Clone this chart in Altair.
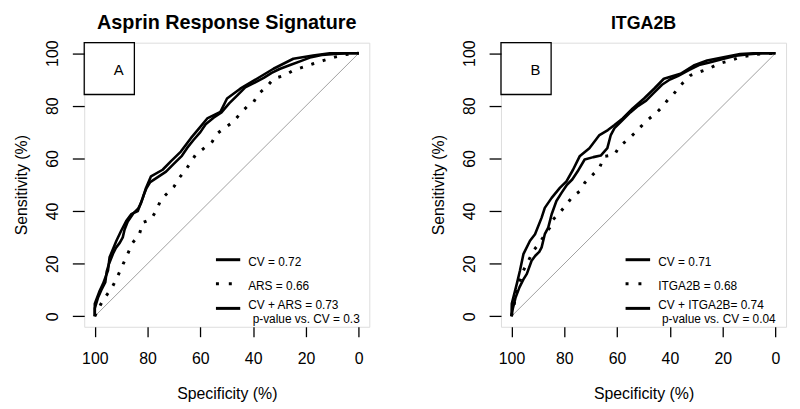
import altair as alt
import pandas as pd

FONT = "Liberation Sans"

# ---------------- Panel A : Asprin Response Signature ----------------
A_CVARS_SPEC = [100, 100, 98.1, 96.9, 95.0, 94.4, 91.8, 90.0, 88.1, 86.2, 83.7, 81.8, 80.6, 78.7, 74.3, 71.2,
                67.4, 63.6, 60.5, 57.4, 52.4, 49.9, 44.9, 38.6, 32.3, 24.8, 17.3, 11.0, 0]
A_CVARS_SENS = [0, 4.8, 9.8, 12.3, 17.4, 22.4, 28.7, 32.5, 36.2, 38.8, 40, 45, 48.8, 53.2, 55.7, 58.9,
                62.6, 67.7, 71.4, 75.2, 77.7, 82.8, 86.5, 90.3, 94.1, 97.9, 99.1, 100, 100]

A_CV_SPEC = [100, 100, 98.8, 97.5, 96, 95.5, 94.6, 93, 92, 90.5, 89.4, 88.7, 87.5, 85.5, 83.5, 82.5, 81.5,
             80.5, 79, 76, 73, 70, 67, 65, 62.6, 60, 58, 55, 52, 49, 46, 43, 40, 36, 33, 30, 26, 22, 18,
             14, 9, 4, 0]
A_CV_SENS = [0, 3, 7, 10, 13, 17, 20, 24, 26, 28, 30, 33, 36, 39, 41, 43, 46,
             48.5, 51, 53, 55, 58, 61, 64, 67, 70, 73, 75.5, 77.5, 81, 84, 87, 88.5, 90.6, 92.5, 94, 95.5, 97, 98.5,
             99.3, 99.7, 100, 100]

A_ARS_SPEC = [100, 99, 97, 93.7, 91.8, 88.7, 85.6, 83.1, 81.8, 78.7, 76.8, 74.9, 72.4, 69.9, 68, 65.5,
              61.8, 58.6, 55.5, 53.6, 51.1, 47.4, 44.9, 42.4, 39.8, 38, 34.9, 32.3, 28, 24.8, 21.1, 17.3,
              13.5, 9.1, 5, 0]
A_ARS_SENS = [0, 2, 6, 10.5, 14.2, 21.1, 28, 31.2, 35.6, 36.9, 40, 44.4, 46.9, 49.4, 52.6, 55.7,
              61.4, 63.9, 66.4, 69.5, 71.4, 74, 77.1, 79.6, 81.5, 84.6, 87.2, 90.3, 91.6, 93.5, 94.7, 96,
              97.2, 98.5, 99.5, 100]

A_LEGEND = ["CV = 0.72", "ARS = 0.66", "CV + ARS = 0.73", "p-value vs. CV = 0.3"]

# ---------------- Panel B : ITGA2B ----------------
B_CVIT_SPEC = [100, 99.9, 98, 96.8, 95.5, 93, 91.1, 88.6, 87.4, 84.8, 81.7, 79.2, 76.7, 74.2, 70.5, 66.7,
               63.5, 61, 57.9, 54.1, 49.8, 46, 42.3, 36, 31, 25.9, 19.7, 13.4, 8.4, 0]
B_CVIT_SENS = [0, 4.8, 12.3, 17.4, 23.6, 28.7, 31.2, 37.5, 41.2, 45, 48.8, 51.3, 55.7, 60.8, 63.9, 68.9,
               70.8, 72.7, 75.2, 79, 82.8, 86.5, 90.3, 92.2, 95.3, 97.2, 98.5, 99.7, 100, 100]

B_CV_SPEC = [100, 99.5, 98.5, 97, 95.5, 94.2, 92.4, 91, 89.5, 88.6, 87.4, 86.1, 84.8, 83, 81, 79, 77, 75,
             72.3, 69, 66.2, 63.7, 62.4, 61, 58.5, 55, 52, 49, 46, 43, 40, 37, 33, 29, 25, 20, 15, 10, 5, 0]
B_CV_SENS = [0, 3, 7, 11, 14, 16.1, 21.1, 23, 24.5, 26.2, 31.2, 33.7, 38.8, 43.8, 47, 50, 52, 55,
             59.6, 60.5, 61.1, 63.9, 68.9, 71.5, 74, 77.5, 80, 82, 85, 88, 90, 91.3, 93.5, 95.5, 96.5, 97.8,
             99, 99.6, 100, 100]

B_IT_SPEC = [100, 99.2, 98, 95.5, 93.6, 91.7, 89.8, 85.5, 84.8, 81.7, 79.2, 76.7, 74.2, 72.3, 69.8, 66.7,
             64.8, 61, 59.2, 56, 53.5, 51, 48.5, 45.4, 42.9, 40.4, 38.5, 36, 32.2, 29.1, 25.3, 21.6, 17.2,
             13.4, 7, 0]
B_IT_SENS = [0, 3.5, 9.8, 17.4, 21.1, 24.9, 27.4, 33.7, 36.2, 39.4, 42.5, 45.7, 47.5, 50.7, 53.2, 56.4,
             60.8, 61.4, 64.5, 67.1, 69.5, 72.1, 74.6, 77.1, 79.6, 82.8, 84.6, 87.8, 91.6, 92.8, 94.1, 96, 97.2,
             98.5, 99.6, 100]

B_LEGEND = ["CV = 0.71", "ITGA2B = 0.68", "CV + ITGA2B= 0.74", "p-value vs. CV = 0.04"]

TICKS = [100, 80, 60, 40, 20, 0]

# layout (data-unit positions for annotations)
LEG_Y_LINES = [21.5, 12.4, 3.0]
LEG_Y_TEXT = [20.8, 11.5, 4.3, -1.0]

xscale = alt.Scale(domain=[-4, 104], reverse=True, nice=False, zero=False)
yscale = alt.Scale(domain=[-4, 104], nice=False, zero=False)

XT = "Specificity (%)"
YT = "Sensitivity (%)"
DOT = [3, 9]


def X(field="spec"):
    return alt.X(f"{field}:Q", scale=xscale, title=XT,
                 axis=alt.Axis(values=TICKS, grid=False, domain=False, tickSize=10, tickWidth=1.3,
                               tickColor="black", labelFontSize=16, labelColor="black", labelFont=FONT,
                               labelPadding=14, titleFont=FONT, titleFontSize=16, titleFontWeight="normal",
                               titleColor="black", titlePadding=19, labelFlush=False))


def Y(field="sens"):
    return alt.Y(f"{field}:Q", scale=yscale, title=YT,
                 axis=alt.Axis(values=TICKS, grid=False, domain=False, tickSize=12, tickWidth=1.3,
                               tickColor="black", labelFontSize=16, labelColor="black", labelFont=FONT,
                               labelAngle=270, labelAlign="center", labelBaseline="bottom",
                               labelPadding=12, titleFont=FONT, titleFontSize=16, titleFontWeight="normal",
                               titleColor="black", titlePadding=15, labelFlush=False))


def curve(spec, sens, dashed):
    df = pd.DataFrame({"spec": spec, "sens": sens, "i": list(range(len(spec)))})
    kw = dict(color="black", strokeWidth=3 if dashed else 2.6, clip=True, strokeJoin="round")
    if dashed:
        kw["strokeDash"] = DOT
    return alt.Chart(df).mark_line(**kw).encode(x=X(), y=Y(), order="i:Q")


def panel(title, letter, curves, legend_labels, leg_x1, leg_x2, leg_tx, leg_px, title_size):
    diag = alt.Chart(pd.DataFrame({"spec": [100, 0], "sens": [0, 100]})).mark_line(
        color="#a0a0a0", strokeWidth=1).encode(x=X(), y=Y())
    layers = [diag]
    layers += [curve(s, t, d) for (s, t, d) in curves]

    # legend
    leg_lines = pd.DataFrame({"spec": [leg_x1] * 3, "spec2": [leg_x2] * 3, "sens": LEG_Y_LINES,
                              "dash": ["solid", "dot", "solid"]})
    solid = alt.Chart(leg_lines[leg_lines.dash == "solid"]).mark_rule(
        color="black", strokeWidth=3).encode(x=X(), x2="spec2:Q", y=Y())
    dot = alt.Chart(leg_lines[leg_lines.dash == "dot"]).mark_rule(
        color="black", strokeWidth=3, strokeDash=[3, 10]).encode(x=X(), x2="spec2:Q", y=Y())
    txt = pd.DataFrame({"spec": [leg_tx] * 3 + [leg_px], "sens": LEG_Y_TEXT, "label": legend_labels})
    text = alt.Chart(txt).mark_text(align="left", baseline="middle", font=FONT, fontSize=12,
                                    color="black").encode(x=X(), y=Y(), text="label:N")
    layers += [solid, dot, text]

    # panel letter box
    box = alt.Chart(pd.DataFrame({"spec": [104], "spec2": [85.0], "sens": [104], "sens2": [84.3]})).mark_rect(
        fillOpacity=0, stroke="black", strokeWidth=1.3).encode(x=X(), x2="spec2:Q", y=Y(), y2="sens2:Q")
    let = alt.Chart(pd.DataFrame({"spec": [90.9], "sens": [93.5], "label": [letter]})).mark_text(
        font=FONT, fontSize=15, color="black", align="center", baseline="middle").encode(
        x=X(), y=Y(), text="label:N")
    layers += [box, let]

    return alt.layer(*layers).properties(
        width=288, height=287,
        title=alt.TitleParams(title, font=FONT, fontSize=title_size, fontWeight="bold", color="black",
                              anchor="middle", offset=7))


pA = panel("Asprin Response Signature", "A",
           [(A_ARS_SPEC, A_ARS_SENS, True), (A_CV_SPEC, A_CV_SENS, False), (A_CVARS_SPEC, A_CVARS_SENS, False)],
           A_LEGEND, 54.1, 44.9, 41.9, 40.2, 20)
pB = panel("ITGA2B", "B",
           [(B_IT_SPEC, B_IT_SENS, True), (B_CV_SPEC, B_CV_SENS, False), (B_CVIT_SPEC, B_CVIT_SENS, False)],
           B_LEGEND, 56.8, 47.5, 44.4, 43.0, 18)

chart = alt.hconcat(pA, pB, spacing=60).properties(
    padding={"left": 5, "top": 2, "right": 5, "bottom": 5}).configure_view(
    stroke="black", strokeWidth=1.5).configure(background="white")

chart.save("out.html", embed_options={"renderer": "svg", "actions": False})
